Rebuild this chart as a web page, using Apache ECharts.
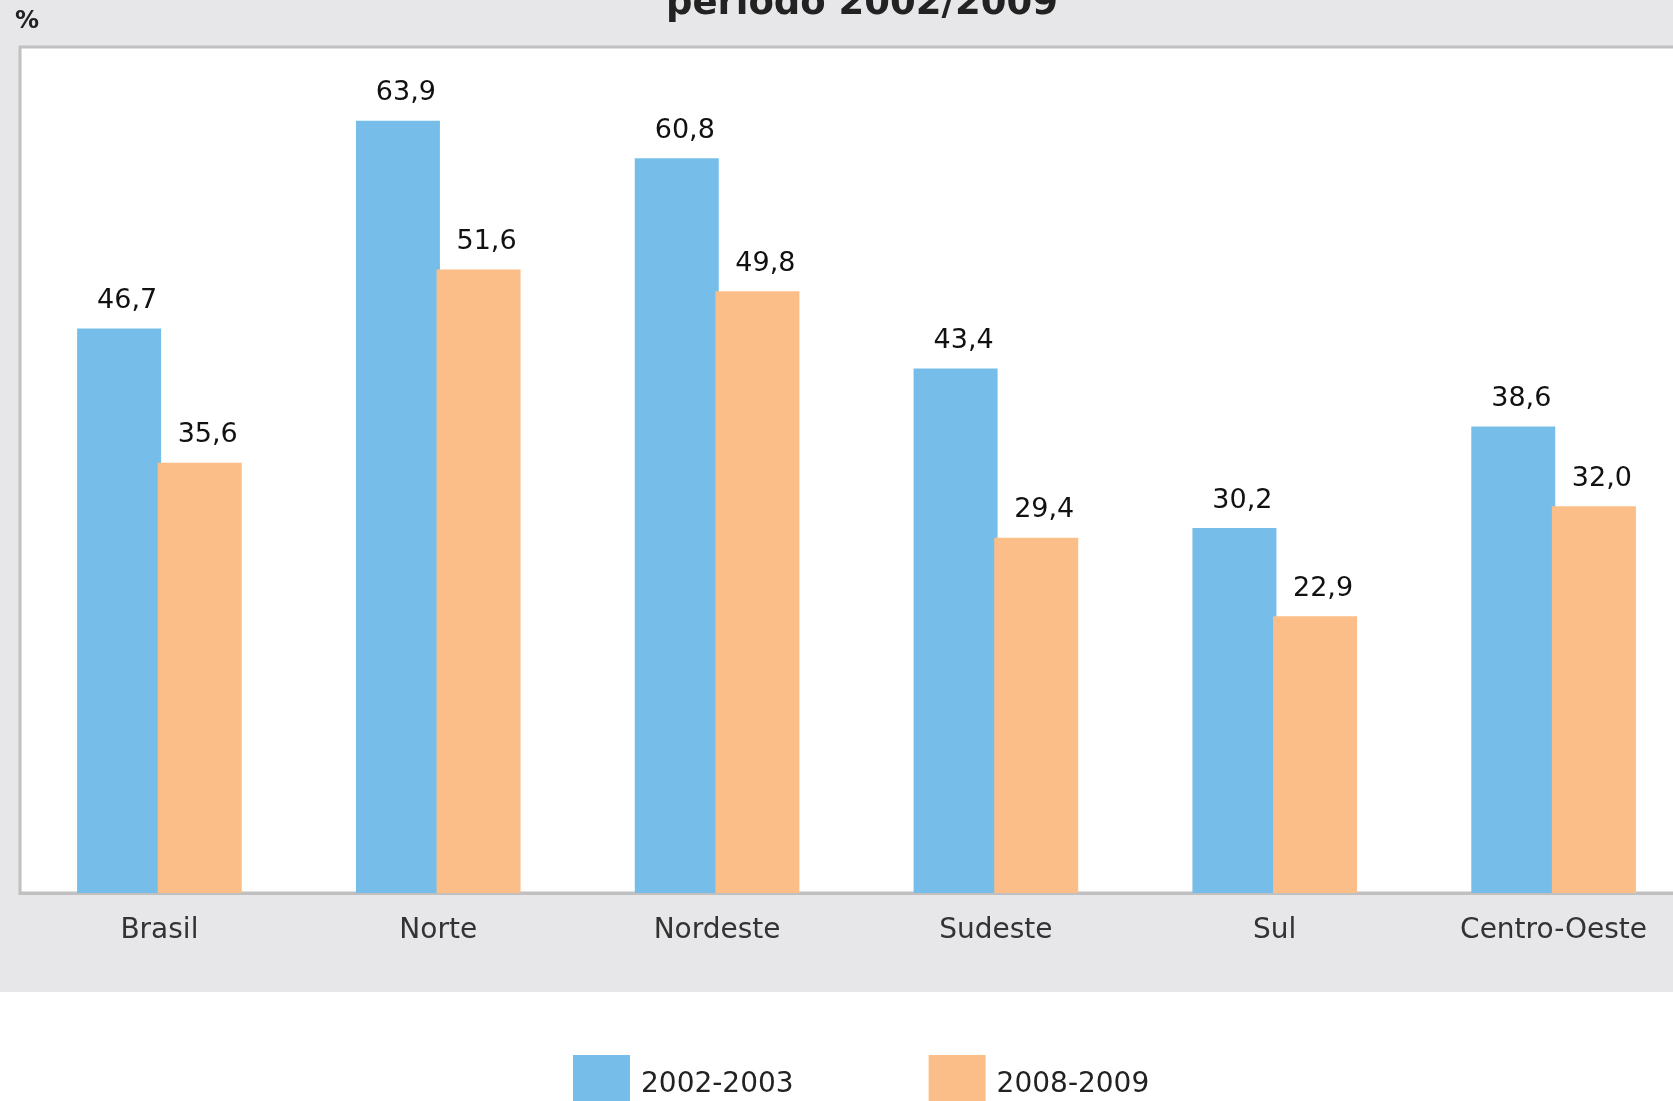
<!DOCTYPE html>
<html>
<head>
<meta charset="utf-8">
<script src="https://cdn.jsdelivr.net/npm/echarts@6/dist/echarts.min.js"></script>
<style>
  html, body { margin: 0; padding: 0; background: #fff; }
  #chart { width: 1673px; height: 1101px; }
</style>
</head>
<body>
<div id="chart"></div>
<script>
  // regiões e percentuais
  var regioes = ['Brasil', 'Norte', 'Nordeste', 'Sudeste', 'Sul', 'Centro-Oeste'];
  var serie2002 = [46.7, 63.9, 60.8, 43.4, 30.2, 38.6];
  var serie2008 = [35.6, 51.6, 49.8, 29.4, 22.9, 32.0];
  var nomesSeries = ['2002-2003', '2008-2009'];

  var fonte = 'DejaVu Sans';
  var virgula = function (p) { return p.value.toFixed(1).replace('.', ','); };

  var chart = echarts.init(document.getElementById('chart'));
  chart.setOption({
    animation: false,
    backgroundColor: '#ffffff',
    graphic: [
      { type: 'rect', z: -10, shape: { x: 0, y: 0, width: 1673, height: 992 }, style: { fill: '#e7e7e9' } },
      { type: 'text', x: 862, y: -14, style: { text: 'período 2002/2009', font: 'bold 37px "DejaVu Sans"', fill: '#222', align: 'center', verticalAlign: 'top' } },
      { type: 'text', x: 15, y: 10, style: { text: '%', font: 'bold 24px "DejaVu Sans"', fill: '#222' } }
    ],
    grid: {
      show: true,
      left: 20,
      width: 1673,
      top: 47,
      bottom: 208,
      containLabel: false,
      outerBoundsMode: 'none',
      backgroundColor: '#ffffff',
      borderColor: '#c0c0c0',
      borderWidth: 3
    },
    legend: {
      data: nomesSeries,
      left: 568,
      top: 1050,
      itemWidth: 57,
      itemHeight: 60,
      itemGap: 135,
      icon: 'rect',
      textStyle: { fontFamily: fonte, fontSize: 28, color: '#222', padding: [0, 0, 0, 6] }
    },
    xAxis: {
      type: 'category',
      data: regioes,
      axisLine: { show: true, lineStyle: { color: '#c0c0c0', width: 3 } },
      axisTick: { show: false },
      axisLabel: { fontFamily: fonte, fontSize: 28, color: '#333', margin: 24 }
    },
    yAxis: {
      type: 'value',
      min: 0,
      max: 70,
      axisLine: { show: false },
      axisTick: { show: false },
      axisLabel: { show: false },
      splitLine: { show: false }
    },
    series: [
      {
        name: nomesSeries[0],
        type: 'bar',
        data: serie2002,
        barWidth: 84,
        barGap: '-4%',
        itemStyle: { color: '#76bee9' },
        label: { show: true, position: 'top', distance: 14, offset: [8, 0], formatter: virgula, fontFamily: fonte, fontSize: 27, color: '#111' }
      },
      {
        name: nomesSeries[1],
        type: 'bar',
        data: serie2008,
        barWidth: 84,
        itemStyle: { color: '#fbbe89' },
        label: { show: true, position: 'top', distance: 14, offset: [8, 0], formatter: virgula, fontFamily: fonte, fontSize: 27, color: '#111' }
      }
    ]
  });
</script>
</body>
</html>
